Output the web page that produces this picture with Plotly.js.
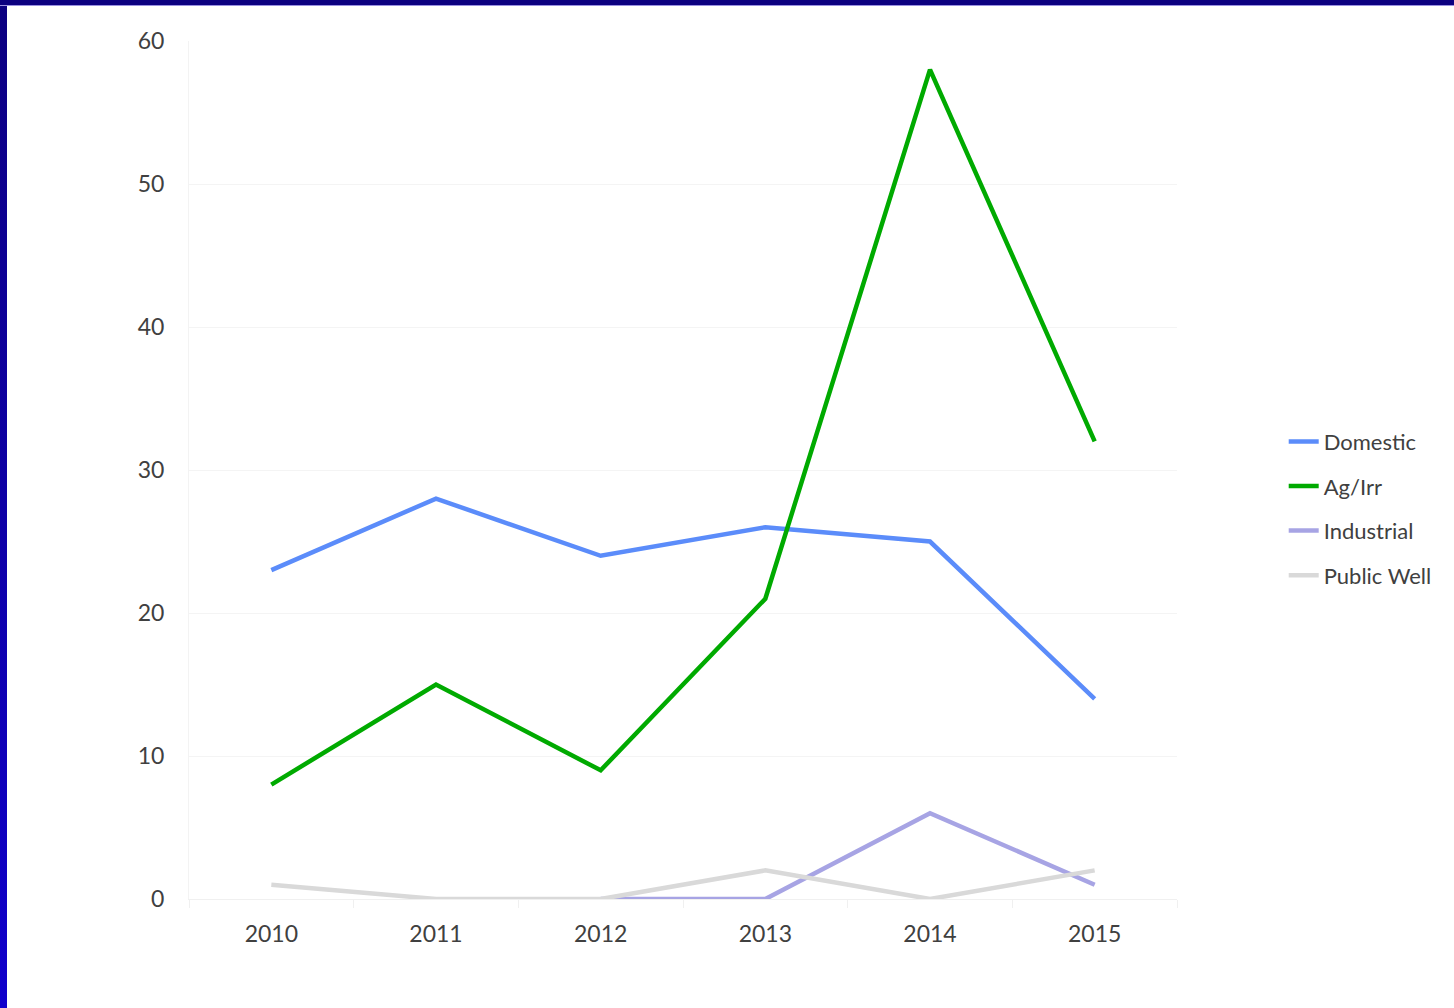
<!DOCTYPE html>
<html>
<head>
<meta charset="utf-8">
<script src="https://cdn.plot.ly/plotly-3.0.1.min.js"></script>
<style>
  html, body { margin: 0; padding: 0; background: #ffffff; }
  #frameLeft { position: absolute; left: 0; top: 0; width: 7px; height: 1008px;
    background: linear-gradient(to bottom, #0c0080 0%, #1000cc 100%); }
  #frameTop { position: absolute; left: 0; top: 0; width: 1454px; height: 5px; background: #0c0080;
    border-bottom: 1px solid #9a90e0; }
  #chart { position: absolute; left: 0; top: 0; width: 1454px; height: 1008px; }
</style>
</head>
<body>
<div id="chart"></div>
<div id="frameLeft"></div>
<div id="frameTop"></div>
<script>
const years = ['2010', '2011', '2012', '2013', '2014', '2015'];
const domestic = [23, 28, 24, 26, 25, 14];
const agIrr = [8, 15, 9, 21, 58, 32];
const industrial = [null, null, 0, 0, 6, 1];
const publicWell = [1, 0, 0, 2, 0, 2];
const yTicks = [0, 10, 20, 30, 40, 50, 60];

const seriesNames = ['Domestic', 'Ag/Irr', 'Industrial', 'Public Well'];
const seriesValues = [domestic, agIrr, industrial, publicWell];
const seriesColors = ['#5b8cfa', '#00aa00', '#a7a4e4', '#d9d9d9'];

const traces = seriesNames.map((name, i) => ({
  type: 'scatter',
  mode: 'lines',
  name: name,
  legendgroup: 'g' + i,
  x: years,
  y: seriesValues[i],
  line: { color: seriesColors[i], width: 4.5 },
  connectgaps: false,
  hoverinfo: 'skip'
}));

const layout = {
  width: 1454,
  height: 1008,
  margin: { l: 189, r: 277, t: 41, b: 109 },
  paper_bgcolor: 'rgba(0,0,0,0)',
  plot_bgcolor: '#ffffff',
  font: { family: 'Lato, "Open Sans", sans-serif', size: 22, color: '#404040' },
  showlegend: true,
  legend: {
    x: 1.108, xanchor: 'left',
    y: 0.455, yanchor: 'middle',
    traceorder: 'grouped',
    tracegroupgap: 13,
    font: { size: 22, color: '#404040' },
    bgcolor: 'rgba(0,0,0,0)',
    itemwidth: 30
  },
  xaxis: {
    type: 'category',
    range: [-0.5, 5.5],
    showgrid: false,
    showline: true,
    linecolor: '#f0f0f0',
    linewidth: 1,
    ticks: 'outside',
    tickson: 'boundaries',
    ticklen: 8,
    tickcolor: '#f0f0f0',
    ticklabelstandoff: 14,
    tickfont: { size: 23, color: '#404040' },
    zeroline: false,
    fixedrange: true
  },
  yaxis: {
    range: [0, 60],
    tickvals: yTicks,
    ticktext: yTicks.map(String),
    showgrid: true,
    gridcolor: '#f4f4f4',
    gridwidth: 1,
    showline: true,
    linecolor: '#f3f3f3',
    ticks: '',
    ticklabelstandoff: 19,
    zeroline: false,
    tickfont: { size: 23, color: '#404040' },
    fixedrange: true
  }
};

Plotly.newPlot('chart', traces, layout, { displayModeBar: false, staticPlot: true });
</script>
</body>
</html>
